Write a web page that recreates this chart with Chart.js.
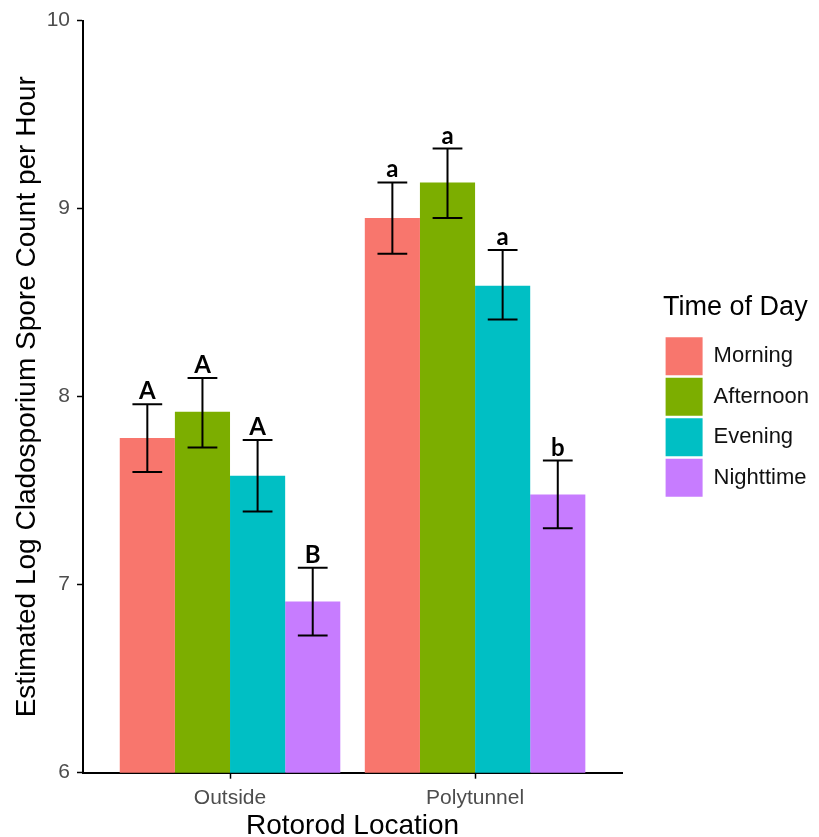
<!DOCTYPE html>
<html>
<head>
<meta charset="utf-8">
<script src="https://cdn.jsdelivr.net/npm/chart.js@4.4.1/dist/chart.umd.min.js"></script>
<style>
  html, body { margin: 0; padding: 0; background: #fff; }
</style>
</head>
<body>
<canvas id="chart" width="819" height="837"></canvas>
<script>
// categories + series
const categories = ['Outside', 'Polytunnel'];
const times = ['Morning', 'Afternoon', 'Evening', 'Nighttime'];
const colors = ['#F8766D', '#7CAE00', '#00BFC4', '#C77CFF'];

const morning   = [7.78, 8.95];
const afternoon = [7.92, 9.14];
const evening   = [7.58, 8.59];
const nighttime = [6.91, 7.48];

// error bar limits
const morningLow   = [7.60, 8.76], morningHigh   = [7.96, 9.14];
const afternoonLow = [7.73, 8.95], afternoonHigh = [8.10, 9.32];
const eveningLow   = [7.39, 8.41], eveningHigh   = [7.77, 8.78];
const nightLow     = [6.73, 7.30], nightHigh     = [7.09, 7.66];

// significance letters
const morningLetters   = ['A', 'a'];
const afternoonLetters = ['A', 'a'];
const eveningLetters   = ['A', 'a'];
const nightLetters     = ['B', 'b'];

const yTicks = [6, 7, 8, 9, 10];

const series = [morning, afternoon, evening, nighttime];
const lows = [morningLow, afternoonLow, eveningLow, nightLow];
const highs = [morningHigh, afternoonHigh, eveningHigh, nightHigh];
const letters = [morningLetters, afternoonLetters, eveningLetters, nightLetters];

Chart.defaults.font.family = '"Liberation Sans", Arial, sans-serif';

// error bars + letters on top of the bars
const errorBars = {
  id: 'errorBars',
  afterDatasetsDraw(chart) {
    const ctx = chart.ctx;
    const yScale = chart.scales.y;
    ctx.save();
    ctx.strokeStyle = '#000';
    ctx.fillStyle = '#000';
    ctx.lineWidth = 2;
    ctx.font = 'bold 24px Lato, "Open Sans", sans-serif';
    ctx.textAlign = 'center';
    ctx.textBaseline = 'alphabetic';
    chart.data.datasets.forEach((ds, i) => {
      const meta = chart.getDatasetMeta(i);
      meta.data.forEach((bar, j) => {
        const top = yScale.getPixelForValue(highs[i][j]);
        const bot = yScale.getPixelForValue(lows[i][j]);
        const half = bar.width * 0.27;
        ctx.beginPath();
        ctx.moveTo(bar.x, top); ctx.lineTo(bar.x, bot);
        ctx.moveTo(bar.x - half, top); ctx.lineTo(bar.x + half, top);
        ctx.moveTo(bar.x - half, bot); ctx.lineTo(bar.x + half, bot);
        ctx.stroke();
        ctx.fillText(letters[i][j], bar.x, top - 5);
      });
    });
    ctx.restore();
  }
};

const datasets = times.map((t, i) => ({
  label: t,
  data: series[i].map((v, j) => ({ x: j + 1, y: v })),
  backgroundColor: colors[i],
  borderWidth: 0,
  categoryPercentage: 0.9,
  barPercentage: 1
}));

new Chart(document.getElementById('chart').getContext('2d'), {
  type: 'bar',
  data: { datasets },
  plugins: [errorBars],
  options: {
    responsive: false,
    animation: false,
    layout: { padding: { top: 20.7, right: 0, bottom: 0, left: 0 } },
    plugins: {
      tooltip: { enabled: false },
      legend: {
        position: 'right',
        fullSize: false,
        align: 'center',
        maxWidth: 300,
        title: {
          display: true,
          text: 'Time of Day',
          position: 'start',
          color: '#000',
          font: { size: 27 },
          padding: { top: 0, bottom: 8 }
        },
        labels: {
          boxWidth: 37,
          boxHeight: 38,
          padding: 2.5,
          color: '#111',
          font: { size: 22 }
        }
      }
    },
    scales: {
      x: {
        type: 'linear',
        min: 0.4,
        max: 2.6,
        offset: false,
        afterBuildTicks: s => { s.ticks = categories.map((c, i) => ({ value: i + 1 })); },
        afterFit: s => { s.height = 64.3; },
        ticks: {
          color: '#4d4d4d',
          font: { size: 21 },
          padding: 7,
          callback: v => categories[v - 1] || ''
        },
        grid: { display: true, offset: false, drawOnChartArea: false, drawTicks: true, tickLength: 6, tickColor: '#000', tickWidth: 1.5 },
        border: { display: true, color: '#000', width: 2 },
        title: { display: true, text: 'Rotorod Location', color: '#000', font: { size: 28, lineHeight: 0.8 }, padding: 0 }
      },
      y: {
        min: 6,
        max: 10,
        afterBuildTicks: s => { s.ticks = yTicks.map(v => ({ value: v })); },
        afterFit: s => { s.width = 83; },
        ticks: { color: '#4d4d4d', font: { size: 21 }, padding: 7 },
        grid: { display: true, drawOnChartArea: false, drawTicks: true, tickLength: 6, tickColor: '#000', tickWidth: 1.5 },
        border: { display: true, color: '#000', width: 2 },
        title: {
          display: true,
          text: 'Estimated Log Cladosporium Spore Count per Hour',
          color: '#000',
          font: { size: 28, lineHeight: 1.2 },
          padding: { top: 10, bottom: 0 }
        }
      },
      // empty spacer between plot and legend
      gap: {
        type: 'linear',
        position: 'right',
        display: true,
        grid: { display: false },
        border: { display: false },
        ticks: { display: false },
        afterFit: s => { s.width = 41; }
      }
    }
  }
});
</script>
</body>
</html>
